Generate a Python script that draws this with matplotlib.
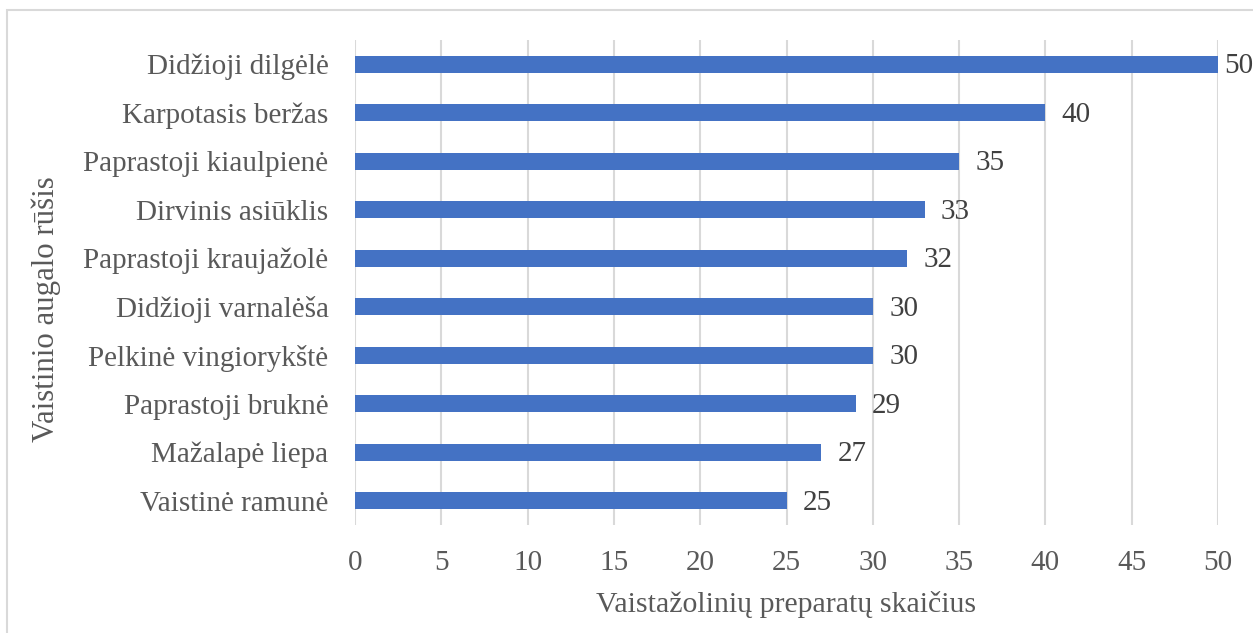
import matplotlib
matplotlib.use("Agg")
import matplotlib.pyplot as plt
from matplotlib.patches import Rectangle

categories = ["Didžioji dilgėlė", "Karpotasis beržas", "Paprastoji kiaulpienė",
              "Dirvinis asiūklis", "Paprastoji kraujažolė", "Didžioji varnalėša",
              "Pelkinė vingiorykštė", "Paprastoji bruknė", "Mažalapė liepa",
              "Vaistinė ramunė"]
values = [50, 40, 35, 33, 32, 30, 30, 29, 27, 25]
xticks = [0, 5, 10, 15, 20, 25, 30, 35, 40, 45, 50]
xlabel = "Vaistažolinių preparatų skaičius"
ylabel = "Vaistinio augalo rūšis"

plt.rcParams['font.family'] = ['Liberation Serif', 'DejaVu Serif']
W, H = 1253, 633
fig = plt.figure(figsize=(W/100, H/100), dpi=100)
ax = fig.add_axes([355/W, 1-525/H, (1218-355)/W, (525-40)/H])

text_c = "#595959"
grid_c = "#D9D9D9"
fs = 21

y = list(range(len(categories)))
ax.barh(y, values, height=0.35, color="#4472C4", zorder=3)
ax.set_ylim(len(categories)-0.5, -0.5)
ax.set_xlim(0, 50)
ax.set_yticks(y)
ax.set_yticklabels(categories, fontsize=fs, color=text_c)
ax.set_xticks(xticks)
ax.set_xticklabels([str(t) for t in xticks], fontsize=fs, color=text_c)
ax.tick_params(axis='both', length=0)
ax.tick_params(axis='y', pad=19)
ax.tick_params(axis='x', pad=18)
ax.xaxis.grid(True, color=grid_c, linewidth=1.5, zorder=0)
for s in ax.spines.values():
    s.set_visible(False)

for yi, v in zip(y, values):
    xpos = min(v + 0.95, 50.35)
    ax.text(xpos, yi + 0.04, str(v), va='center', ha='left', fontsize=fs, color="#404040", zorder=4)

ax.set_xlabel(xlabel, fontsize=21.5, color=text_c, labelpad=11)
ax.set_ylabel(ylabel, fontsize=22.2, color=text_c, labelpad=16)
ax.yaxis.label.set_y(0.445)

fig.patches.append(Rectangle((7/W, -0.1), 1.2, 1-10/H+0.1, transform=fig.transFigure,
                             fill=False, edgecolor="#D9D9D9", linewidth=1.5))

fig.savefig("out.png", dpi=100)
